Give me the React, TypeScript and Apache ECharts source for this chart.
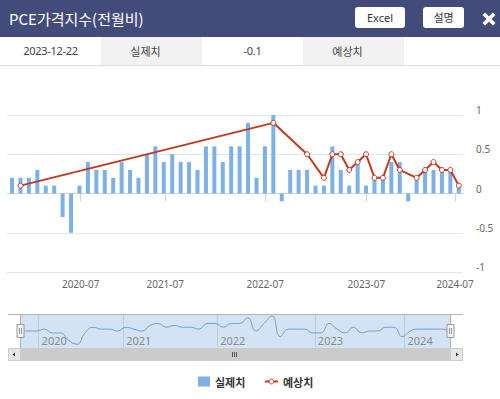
import React, { useEffect, useRef } from "react";
import * as echarts from "echarts";

// Release dates of each data point (ordinal x positions)
const releaseDates = [
  "2019-10-31", "2019-11-27", "2019-12-20", "2020-01-31", "2020-02-28", "2020-03-27",
  "2020-04-30", "2020-05-29", "2020-06-26", "2020-07-31", "2020-08-28", "2020-10-01",
  "2020-10-30", "2021-01-29", "2021-02-26", "2021-03-26", "2021-04-30", "2021-05-28",
  "2021-06-25", "2021-07-30", "2021-08-27", "2021-10-01", "2021-10-29", "2021-11-24",
  "2021-12-23", "2022-01-28", "2022-02-25", "2022-03-31", "2022-04-29", "2022-05-27",
  "2022-06-30", "2022-07-29", "2022-08-26", "2022-09-30", "2022-10-28", "2022-12-01",
  "2022-12-23", "2023-01-27", "2023-02-24", "2023-03-31", "2023-04-28", "2023-05-26",
  "2023-06-30", "2023-07-28", "2023-08-31", "2023-09-29", "2023-10-27", "2023-12-22",
  "2024-01-26", "2024-02-29", "2024-03-28", "2024-04-26", "2024-05-31", "2024-07-26",
];

// 실제치 (actual)
const actualValues = [
  0.2, 0.2, 0.2, 0.3, 0.1, 0.1, -0.3, -0.5,
  0.1, 0.4, 0.3, 0.3, 0.2,
  0.4, 0.3, 0.2, 0.5, 0.6, 0.4, 0.5, 0.4, 0.4, 0.3, 0.6, 0.6, 0.4, 0.6, 0.6, 0.9,
  0.2, 0.6, 1.0, -0.1,
  0.3, 0.3, 0.3, 0.1, 0.1, 0.6, 0.3, 0.1, 0.4, 0.1,
  0.2, 0.2, 0.4, 0.4, -0.1, 0.2, 0.3, 0.3, 0.3, 0.3, 0.1,
];

// 예상치 (forecast), null where none
const forecastValues: (number | null)[] = [
  null, 0.1, null, null, null, null, null, null,
  null, null, null, null, null,
  null, null, null, null, null, null, null, null, null, null, null, null, null, null, null, null,
  null, null, 0.9, null,
  null, null, 0.5, null, 0.2, 0.5, 0.5, 0.3, 0.4, 0.5,
  0.2, 0.2, 0.5, 0.3, null, 0.2, 0.3, 0.4, 0.3, 0.3, 0.1,
];

const mainTickDates = ["2020-07-01", "2021-07-01", "2022-07-01", "2023-07-01", "2024-07-01"];
const mainTickLabels = ["2020-07", "2021-07", "2022-07", "2023-07", "2024-07"];
const navTickDates = ["2020-01-01", "2021-01-01", "2022-01-01", "2023-01-01", "2024-01-01"];
const navTickLabels = ["2020", "2021", "2022", "2023", "2024"];
const yMin = -1;
const yMax = 1;
const yInterval = 0.5;
const seriesNames = ["실제치", "예상치"];
const titleText = "PCE가격지수(전월비)";
const infoCells = ["2023-12-22", "실제치", "-0.1", "예상치", ""];

const releaseTimes = releaseDates.map((d) => Date.parse(d));
function ordinalPos(dateStr: string): number {
  const t = Date.parse(dateStr);
  for (let i = 0; i < releaseTimes.length - 1; i++) {
    if (t >= releaseTimes[i] && t < releaseTimes[i + 1]) {
      return i + (t - releaseTimes[i]) / (releaseTimes[i + 1] - releaseTimes[i]);
    }
  }
  return t < releaseTimes[0] ? 0 : releaseTimes.length - 1;
}
const mainTickPos = mainTickDates.map(ordinalPos);
const navTickPos = navTickDates.map(ordinalPos);

function labelFor(positions: number[], labels: string[]) {
  return (v: number) => {
    let best = 0;
    let bd = Infinity;
    positions.forEach((p, i) => {
      const d = Math.abs(p - v);
      if (d < bd) {
        bd = d;
        best = i;
      }
    });
    return bd < 0.01 ? labels[best] : "";
  };
}

const FONT = "'Noto Sans', 'Noto Sans CJK KR', sans-serif";
const KFONT = "'Noto Sans CJK KR', 'Noto Sans', sans-serif";
const BAR_COLOR = "#7cb0e6";
const LINE_COLOR = "#c03a22";

function buildOption(): any {
  const n = releaseDates.length;
  const legendText = { fontFamily: KFONT, fontSize: 11, fontWeight: "bold", color: "#333" };
  return {
    animation: false,
    textStyle: { fontFamily: FONT },
    legend: [
      {
        data: [{ name: seriesNames[0], icon: "rect" }],
        left: 193,
        top: 371,
        itemWidth: 12,
        itemHeight: 10,
        textStyle: legendText,
      },
      {
        data: [{ name: seriesNames[1], itemStyle: { borderWidth: 1 } }],
        left: 259,
        top: 371,
        itemWidth: 13,
        itemHeight: 6,
        textStyle: legendText,
      },
    ],
    grid: [
      { left: 7, right: 37, top: 115, height: 157 },
      { left: 20, right: 49, top: 315, height: 33 },
    ],
    xAxis: [
      {
        type: "value",
        gridIndex: 0,
        min: -0.6,
        max: n - 0.5,
        axisLine: { show: true, lineStyle: { color: "#d3d3d3" } },
        axisTick: { show: true, length: 8, customValues: mainTickPos, lineStyle: { color: "#d3d3d3" } },
        axisLabel: {
          customValues: mainTickPos,
          formatter: labelFor(mainTickPos, mainTickLabels),
          fontSize: 10,
          color: "#666",
          margin: 7,
        },
        splitLine: { show: false },
      },
      {
        type: "value",
        gridIndex: 1,
        min: 0,
        max: n - 1,
        axisLine: { show: false },
        axisTick: { show: false, customValues: navTickPos },
        axisLabel: {
          customValues: navTickPos,
          formatter: labelFor(navTickPos, navTickLabels),
          inside: true,
          align: "left",
          padding: [0, 0, 0, 3],
          fontSize: 11,
          color: "#8a8a8a",
          margin: 2,
        },
        splitLine: { show: true, lineStyle: { color: "#bccde2" } },
      },
    ],
    yAxis: [
      {
        type: "value",
        gridIndex: 0,
        position: "right",
        min: yMin,
        max: yMax,
        interval: yInterval,
        axisLine: { show: false },
        axisTick: { show: false },
        axisLabel: { align: "left", margin: 13, verticalAlign: "bottom", fontSize: 10, color: "#666" },
        splitLine: { lineStyle: { color: "#e6e6e6" } },
      },
      { type: "value", gridIndex: 1, min: -0.7, max: 1.05, show: false },
    ],
    series: [
      {
        name: seriesNames[0],
        type: "bar",
        xAxisIndex: 0,
        yAxisIndex: 0,
        barWidth: 4,
        itemStyle: { color: BAR_COLOR },
        data: actualValues.map((v, i) => [i, v]),
      },
      {
        name: seriesNames[1],
        type: "line",
        xAxisIndex: 0,
        yAxisIndex: 0,
        symbol: "circle",
        symbolSize: 5,
        showSymbol: true,
        lineStyle: { color: LINE_COLOR, width: 2 },
        itemStyle: { color: "#fff", borderColor: LINE_COLOR, borderWidth: 1 },
        data: forecastValues
          .map((v, i) => (v == null ? null : [i, v]))
          .filter((d) => d !== null),
        z: 3,
      },
      {
        name: "navigator",
        type: "line",
        xAxisIndex: 1,
        yAxisIndex: 1,
        smooth: 0.5,
        showSymbol: false,
        silent: true,
        lineStyle: { color: "#6e9fd6", width: 1 },
        data: actualValues.map((v, i) => [i, v]),
      },
    ],
    graphic: [
      { type: "rect", z: -1, shape: { x: 20, y: 315, width: 431, height: 33 }, style: { fill: "rgba(102,153,214,0.28)" } },
      { type: "line", z: 5, shape: { x1: 8, y1: 314.5, x2: 463, y2: 314.5 }, style: { stroke: "#b3b3b3", lineWidth: 1 } },
      { type: "line", z: 5, shape: { x1: 20.5, y1: 315, x2: 20.5, y2: 348 }, style: { stroke: "#b3b3b3", lineWidth: 1 } },
      { type: "line", z: 5, shape: { x1: 450.5, y1: 315, x2: 450.5, y2: 348 }, style: { stroke: "#b3b3b3", lineWidth: 1 } },
      // handles
      { type: "rect", z: 6, shape: { x: 17, y: 324.5, width: 7, height: 13 }, style: { fill: "#f2f2f2", stroke: "#999", lineWidth: 1 } },
      { type: "line", z: 7, shape: { x1: 19.5, y1: 328, x2: 19.5, y2: 334 }, style: { stroke: "#999", lineWidth: 1 } },
      { type: "line", z: 7, shape: { x1: 21.5, y1: 328, x2: 21.5, y2: 334 }, style: { stroke: "#999", lineWidth: 1 } },
      { type: "rect", z: 6, shape: { x: 447, y: 324.5, width: 7, height: 13 }, style: { fill: "#f2f2f2", stroke: "#999", lineWidth: 1 } },
      { type: "line", z: 7, shape: { x1: 449.5, y1: 328, x2: 449.5, y2: 334 }, style: { stroke: "#999", lineWidth: 1 } },
      { type: "line", z: 7, shape: { x1: 451.5, y1: 328, x2: 451.5, y2: 334 }, style: { stroke: "#999", lineWidth: 1 } },
      // scrollbar
      { type: "rect", z: 5, shape: { x: 8.5, y: 348.5, width: 454, height: 12 }, style: { fill: "#f2f2f2", stroke: "#d6d6d6", lineWidth: 1 } },
      { type: "rect", z: 6, shape: { x: 20.5, y: 348.5, width: 430, height: 12 }, style: { fill: "#cbcbcb", stroke: "#cbcbcb", lineWidth: 1 } },
      { type: "rect", z: 6, shape: { x: 8.5, y: 348.5, width: 12, height: 12 }, style: { fill: "#e6e6e6", stroke: "#cccccc", lineWidth: 1 } },
      { type: "rect", z: 6, shape: { x: 450.5, y: 348.5, width: 12, height: 12 }, style: { fill: "#e6e6e6", stroke: "#cccccc", lineWidth: 1 } },
      { type: "polygon", z: 7, shape: { points: [[12.5, 354.5], [15, 352.5], [15, 356.5]] }, style: { fill: "#333" } },
      { type: "polygon", z: 7, shape: { points: [[458.5, 354.5], [456, 352.5], [456, 356.5]] }, style: { fill: "#333" } },
      { type: "line", z: 7, shape: { x1: 232.5, y1: 352, x2: 232.5, y2: 357 }, style: { stroke: "#555", lineWidth: 1 } },
      { type: "line", z: 7, shape: { x1: 234.5, y1: 352, x2: 234.5, y2: 357 }, style: { stroke: "#555", lineWidth: 1 } },
      { type: "line", z: 7, shape: { x1: 236.5, y1: 352, x2: 236.5, y2: 357 }, style: { stroke: "#555", lineWidth: 1 } },
    ],
  };
}

export default function App() {
  const ref = useRef<HTMLDivElement>(null);
  useEffect(() => {
    if (!ref.current) return;
    const chart = echarts.init(ref.current, undefined, { renderer: "svg" });
    chart.setOption(buildOption());
    return () => chart.dispose();
  }, []);

  const cellBgs = ["#ffffff", "#f2f2f2", "#ffffff", "#f2f2f2", "#ffffff"];
  const cellWidths = [101, 101, 101, 101, 96];
  const cellPad = [0, 12, 0, 12, 0];

  return (
    <div style={{ position: "absolute", left: 0, top: 0, width: 500, height: 399, background: "#fff", overflow: "hidden" }}>
      <div ref={ref} style={{ position: "absolute", left: 0, top: 0, width: 500, height: 399 }} />
      <div style={{ position: "absolute", left: 0, top: 0, width: 500, height: 37, background: "#434b7b", zIndex: 2 }}>
        <div style={{ position: "absolute", left: 9, top: 0, height: 37, lineHeight: "37px", fontSize: 15, color: "#fff", fontFamily: KFONT, whiteSpace: "nowrap" }}>
          {titleText}
        </div>
        <div style={{ position: "absolute", left: 355, top: 7, width: 50, height: 21, lineHeight: "21px", borderRadius: 3, background: "#fff", color: "#333", fontSize: 11, textAlign: "center", fontFamily: FONT }}>
          Excel
        </div>
        <div style={{ position: "absolute", left: 423, top: 7, width: 41, height: 21, lineHeight: "21px", borderRadius: 3, background: "#fff", color: "#333", fontSize: 11, textAlign: "center", fontFamily: KFONT }}>
          설명
        </div>
        <svg style={{ position: "absolute", left: 481.5, top: 12 }} width={14} height={14} viewBox="0 0 14 14">
          <line x1={1.8} y1={1.8} x2={12.2} y2={12.2} stroke="#fff" strokeWidth={3.6} />
          <line x1={12.2} y1={1.8} x2={1.8} y2={12.2} stroke="#fff" strokeWidth={3.6} />
        </svg>
      </div>
      <div style={{ position: "absolute", left: 0, top: 37, width: 500, height: 28, display: "flex", zIndex: 2 }}>
        {infoCells.map((c, i) => (
          <div
            key={i}
            style={{
              width: cellWidths[i],
              height: 28,
              lineHeight: "28px",
              background: cellBgs[i],
              textAlign: "center",
              boxSizing: "border-box",
              paddingRight: cellPad[i],
              fontSize: 11,
              color: "#444",
              fontFamily: i % 2 === 1 ? KFONT : FONT,
              letterSpacing: i % 2 === 0 ? -0.3 : 0,
            }}
          >
            {c}
          </div>
        ))}
      </div>
      <div style={{ position: "absolute", left: 0, top: 65, width: 500, height: 1, background: "#dcdcdc", zIndex: 2 }} />
    </div>
  );
}
